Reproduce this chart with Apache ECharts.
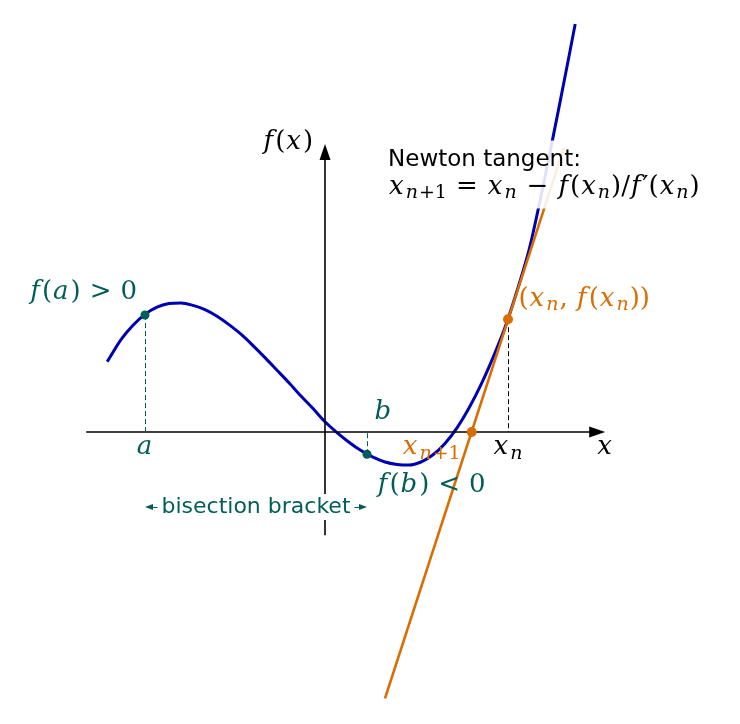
<!DOCTYPE html>
<html>
<head>
<meta charset="utf-8">
<script src="https://cdn.jsdelivr.net/npm/echarts@6/dist/echarts.min.js"></script>
<style>
  html, body { margin: 0; padding: 0; background: #fff; }
  #main { width: 740px; height: 724px; }
</style>
</head>
<body>
<div id="main"></div>
<script>
// f(x) (1 unit = 60px, origin on the axes crossing)
var curveX = [-3.63, -3.6, -3.4, -3.2, -3.0, -2.8, -2.6, -2.4, -2.2, -2.0, -1.8, -1.6, -1.4, -1.2, -1.0, -0.8, -0.6, -0.4, -0.2, 0,
              0.2, 0.4, 0.6, 0.8, 1.0, 1.2, 1.4, 1.6, 1.8, 2.0, 2.2, 2.4, 2.6, 2.8, 3.0, 3.2, 3.4, 3.6, 3.8, 4.0, 4.17];
var curveY = [1.17, 1.22, 1.54, 1.78, 1.96, 2.08, 2.14, 2.15, 2.11, 2.04, 1.93, 1.79, 1.63, 1.44, 1.24, 1.03, 0.82, 0.60, 0.39, 0.17,
              -0.01, -0.17, -0.31, -0.42, -0.50, -0.54, -0.55, -0.50, -0.38, -0.19, 0.07, 0.40, 0.79, 1.24, 1.74, 2.35, 3.03, 3.93, 4.91, 5.92, 6.8];

// tangent at x_n
var tangentX = [1.0, 3.98];
var tangentY = [-4.44, 4.73];

// bisection end points a, b  and newton points x_n, x_{n+1}
var bisectX = [-3.0, 0.7];
var bisectY = [1.95, -0.37];
var newtonX = [3.05, 2.445];
var newtonY = [1.88, 0];

// axis extents (arrow tips)
var xAxisEnds = [-3.98, 4.67];
var yAxisEnds = [-1.72, 4.8];
var bracketY = -1.25;

var PX = 60;
var TEAL = '#005e57', BLUE = '#0000b3', ORANGE = '#d96d00';
var SERIF = 'DejaVu Serif', SANS = 'DejaVu Sans';

function zip(xs, ys) {
    return xs.map(function (x, i) { return [x, ys[i]]; });
}

function mathRich(size, color) {
    var sub = Math.round(size * 0.72);
    var drop = Math.round(size * 0.45);
    return {
        i: { fontFamily: SERIF, fontStyle: 'italic', fontSize: size, color: color, padding: [0, 2, 0, 1] },
        r: { fontFamily: SERIF, fontSize: size, color: color },
        o: { fontFamily: SERIF, fontSize: size, color: color, padding: [0, 9, 0, 9] },
        si: { fontFamily: SERIF, fontStyle: 'italic', fontSize: sub, color: color, padding: [drop, 1, 0, 0] },
        sr: { fontFamily: SERIF, fontSize: sub, color: color, padding: [drop, 0, 0, 0] },
        s: { fontFamily: SANS, fontSize: 23, color: color }
    };
}

var notes = [
    { at: [-0.62, 4.83], text: '{i|f}{r|(}{i|x}{r|)}', color: '#000' },
    { at: [4.67, -0.25], text: '{i|x}', color: '#000' },
    { at: [-3.0, -0.25], text: '{i|a}', color: TEAL },
    { at: [0.97, 0.33], text: '{i|b}', color: TEAL },
    { at: [-4.03, 2.33], text: '{i|f}{r|(}{i|a}{r|)}{o|>}{r|0}', color: TEAL },
    { at: [1.77, -0.88], text: '{i|f}{r|(}{i|b}{r|)}{o|<}{r|0}', color: TEAL },
    { at: [1.77, -0.26], text: '{i|x}{si|n}{sr|+1}', color: ORANGE },
    { at: [3.05, -0.26], text: '{i|x}{si|n}', color: '#000' },
    { at: [4.32, 2.22], text: '{r|(}{i|x}{si|n}{r|, }{i|f}{r|(}{i|x}{si|n}{r|))}', color: ORANGE }
];

var chart = echarts.init(document.getElementById('main'));

chart.setOption({
    animation: false,
    backgroundColor: '#fff',
    grid: { left: 0, right: 0, top: 0, bottom: 0 },
    xAxis: { type: 'value', min: -325 / PX, max: 415 / PX, show: false },
    yAxis: { type: 'value', min: -292 / PX, max: 432 / PX, show: false },
    series: [
        {
            name: 'axes', type: 'line', data: [], z: 1,
            markLine: {
                silent: true,
                symbol: ['none', 'triangle'],
                symbolSize: [11, 16],
                label: { show: false },
                lineStyle: { color: '#000', width: 1.6, type: 'solid' },
                data: [
                    [{ coord: [xAxisEnds[0], 0] }, { coord: [xAxisEnds[1] - 8 / PX, 0] }],
                    [{ coord: [0, yAxisEnds[0]] }, { coord: [0, yAxisEnds[1] - 8 / PX] }]
                ]
            }
        },
        {
            name: 'guides', type: 'line', data: [], z: 2,
            markLine: {
                silent: true,
                symbol: 'none',
                label: { show: false },
                lineStyle: { width: 1, type: [5, 3] },
                data: [
                    [{ coord: [bisectX[0], bisectY[0]], lineStyle: { color: TEAL } }, { coord: [bisectX[0], 0] }],
                    [{ coord: [bisectX[1], bisectY[1]], lineStyle: { color: TEAL } }, { coord: [bisectX[1], 0] }],
                    [{ coord: [newtonX[0], newtonY[0]], lineStyle: { color: '#000' } }, { coord: [newtonX[0], 0] }]
                ]
            }
        },
        {
            name: 'f', type: 'line', z: 3,
            data: zip(curveX, curveY),
            smooth: 0.3,
            smoothMonotone: 'none',
            showSymbol: false,
            lineStyle: { color: BLUE, width: 3 }
        },
        {
            name: 'tangent', type: 'line', z: 4,
            data: zip(tangentX, tangentY),
            showSymbol: false,
            lineStyle: { color: ORANGE, width: 2.6 }
        },
        {
            name: 'bisection', type: 'scatter', z: 5,
            data: zip(bisectX, bisectY),
            symbolSize: 9,
            itemStyle: { color: TEAL, opacity: 1 }
        },
        {
            name: 'newton', type: 'scatter', z: 5,
            data: zip(newtonX, newtonY),
            symbolSize: 10,
            itemStyle: { color: ORANGE, opacity: 1 }
        },
        {
            name: 'bracket', type: 'line', data: [], z: 6,
            markLine: {
                silent: true,
                symbol: ['triangle', 'triangle'],
                symbolSize: [6, 8],
                label: { show: false },
                lineStyle: { color: TEAL, width: 1, type: 'solid' },
                data: [
                    [{ coord: [bisectX[0] + 4 / PX, bracketY] }, { coord: [bisectX[1] - 4 / PX, bracketY] }]
                ]
            }
        },
        {
            name: 'notes', type: 'scatter', z: 7,
            symbolSize: 0,
            itemStyle: { color: 'rgba(0,0,0,0)', opacity: 1 },
            data: notes.map(function (n) {
                return {
                    value: n.at,
                    label: {
                        show: true, position: 'inside',
                        formatter: n.text, color: n.color,
                        rich: mathRich(26, n.color)
                    }
                };
            }).concat([
                {
                    value: [(bisectX[0] + bisectX[1]) / 2, bracketY],
                    label: {
                        show: true, position: 'inside',
                        formatter: '{s|bisection bracket}', color: TEAL,
                        backgroundColor: '#fff', padding: [2, 4],
                        rich: { s: { fontFamily: SANS, fontSize: 22, color: TEAL } }
                    }
                },
                {
                    value: [0.967, 4.29],
                    label: {
                        show: true, position: 'right', distance: 0,
                        formatter: '{s|Newton tangent:}\n{i|x}{si|n}{sr|+1}{o|=}{i|x}{si|n}{o|−}{i|f}{r|(}{i|x}{si|n}{r|)/}{i|f}{r|′(}{i|x}{si|n}{r|)}',
                        color: '#000',
                        backgroundColor: 'rgba(255,255,255,0.88)', padding: [8, 6, 6, 5],
                        rich: mathRich(26, '#000')
                    }
                }
            ])
        }
    ]
});
</script>
</body>
</html>
